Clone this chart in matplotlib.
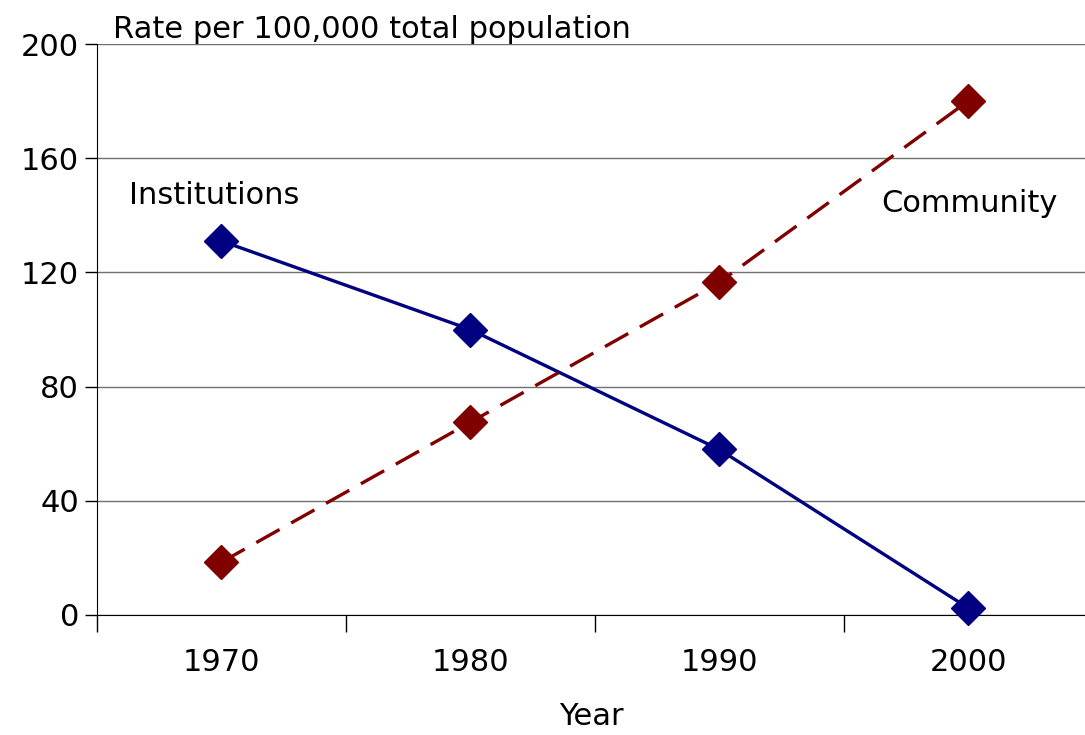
import numpy as np
import matplotlib.pyplot as plt

# Data
years = ['1970', '1980', '1990', '2000']
institutions = [131, 100, 58, 2.5]
community = [18.5, 67.5, 116.5, 180]

plt.rcParams['font.family'] = 'DejaVu Sans'
fs = 22

fig = plt.figure(figsize=(10.85, 7.35), dpi=100)
ax = fig.add_axes([97 / 1085, 120 / 735, 988 / 1085, 571 / 735])

x = np.arange(len(years))
ax.plot(x, institutions, color='#000080', lw=2.4, marker='D', ms=17,
        clip_on=False, zorder=3)
ax.plot(x, community, color='#800000', lw=2.4, ls=(0, (8, 4)), marker='D',
        ms=17, clip_on=False, zorder=3)

ax.set_xlim(-0.5, 3.47)
ax.set_ylim(0, 200)
ax.set_yticks(np.arange(0, 201, 40))
ax.yaxis.grid(True, color='#707070', lw=1)
ax.set_axisbelow(True)

# category axis: tick marks between categories, labels centered
ax.set_xticks(np.arange(-0.5, 3.5, 1))
ax.set_xticklabels([])
ax.set_xticks(x, minor=True)
ax.set_xticklabels(years, minor=True)
ax.tick_params(axis='x', which='major', length=12, direction='out', width=1)
ax.tick_params(axis='x', which='minor', length=0, pad=24, labelsize=fs)
ax.tick_params(axis='y', length=9, width=1, labelsize=fs, pad=4)

for s in ['top', 'right']:
    ax.spines[s].set_visible(False)

ax.set_xlabel('Year', fontsize=fs, labelpad=18)
ax.text(0.016, 1.0, 'Rate per 100,000 total population', transform=ax.transAxes,
        fontsize=fs, ha='left', va='bottom')

ax.text(-0.37, 147, 'Institutions', fontsize=fs, ha='left', va='center')
ax.text(2.65, 144, 'Community', fontsize=fs, ha='left', va='center')

fig.savefig('out.png', dpi=100)
